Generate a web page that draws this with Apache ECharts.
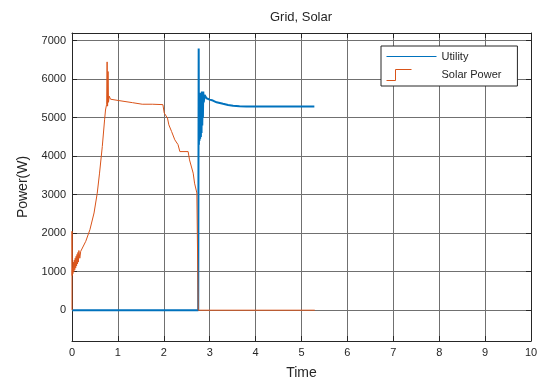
<!DOCTYPE html>
<html>
<head>
<meta charset="utf-8">
<script src="https://cdn.jsdelivr.net/npm/echarts@6/dist/echarts.min.js"></script>
<style>
  html, body { margin: 0; padding: 0; background: #fff; }
  #chart { width: 547px; height: 385px; }
</style>
</head>
<body>
<div id="chart"></div>
<script>
// values: [time, power]
const utility = [
  [0, 0], [2.75, 0], [2.755, 0], [2.76, 6800], [2.765, 4300], [2.772, 5600],
  [2.778, 4400], [2.785, 5650], [2.792, 4450], [2.80, 5600], [2.808, 4500],
  [2.815, 5650], [2.822, 4600], [2.83, 5680], [2.838, 4800], [2.845, 5650],
  [2.852, 5000], [2.86, 5680], [2.87, 5400], [2.89, 5590], [2.93, 5505],
  [3.0, 5470], [3.07, 5445], [3.15, 5400], [3.29, 5360], [3.4, 5330],
  [3.51, 5310], [3.65, 5300], [3.8, 5290], [4.2, 5290], [4.6, 5290],
  [5.0, 5290], [5.28, 5290]
]
const solar = [
  [0, 0], [0, 2050], [0.004, 900], [0.01, 1100], [0.02, 950], [0.03, 1250],
  [0.04, 1000], [0.05, 1300], [0.06, 1050], [0.07, 1350], [0.08, 1100],
  [0.09, 1400], [0.10, 1150], [0.11, 1450], [0.12, 1200], [0.13, 1500],
  [0.14, 1250], [0.15, 1550], [0.17, 1350], [0.19, 1530], [0.30, 1790],
  [0.39, 2090], [0.48, 2525], [0.55, 3040], [0.60, 3560], [0.66, 4250],
  [0.71, 4945], [0.73, 5200], [0.755, 5350], [0.765, 6450], [0.775, 5300],
  [0.785, 6200], [0.795, 5400], [0.81, 5560], [0.84, 5480], [1.02, 5445],
  [1.32, 5390], [1.53, 5350], [1.75, 5350], [1.98, 5340], [2.01, 5120],
  [2.08, 4990], [2.11, 4815], [2.17, 4640], [2.24, 4425], [2.31, 4300],
  [2.35, 4120], [2.53, 4120], [2.56, 3905], [2.64, 3560], [2.67, 3300],
  [2.72, 3045], [2.745, 3045], [2.75, 0], [5.29, 0]
]
const yTicks = [0, 1000, 2000, 3000, 4000, 5000, 6000, 7000]

const font = 'Liberation Sans, Arial, Helvetica, sans-serif'
const ink = '#262626'
const gridColor = '#707070'

const chart = echarts.init(document.getElementById('chart'), null, { renderer: 'canvas' })

chart.setOption({
  animation: false,
  textStyle: { fontFamily: font },
  title: {
    text: 'Grid, Solar',
    left: 301,
    top: 11,
    padding: 0,
    textAlign: 'center',
    textStyle: { fontSize: 13, fontWeight: 'normal', color: ink, fontFamily: font }
  },
  legend: {
    orient: 'vertical',
    left: 381,
    top: 46,
    padding: [5, 16, 5, 5],
    itemWidth: 50,
    itemHeight: 11,
    itemGap: 7,
    backgroundColor: '#fff',
    borderColor: ink,
    borderWidth: 1,
    borderRadius: 0,
    textStyle: { fontSize: 11, color: ink, fontFamily: font },
    data: [
      {
        name: 'Utility',
        icon: 'path://M0,5L50,5L50,6L0,6Z',
        itemStyle: { color: '#0072BD', borderWidth: 0 }
      },
      {
        name: 'Solar Power',
        icon: 'path://M0,11L9,11L9,0L25,0M50,0M50,11',
        itemStyle: { color: 'rgba(0,0,0,0)', borderColor: '#D95319', borderWidth: 1 }
      }
    ]
  },
  grid: { left: 72, right: 16, top: 33, bottom: 44 },
  xAxis: [
    {
      type: 'value',
      min: 0,
      max: 10,
      interval: 1,
      name: 'Time',
      nameLocation: 'middle',
      nameGap: 25,
      nameTextStyle: { fontSize: 14, color: ink },
      axisLine: { show: true, onZero: false, lineStyle: { color: ink } },
      axisTick: { show: true, inside: true, length: 5, lineStyle: { color: ink } },
      axisLabel: { fontSize: 11, color: ink, margin: 6, formatter: v => String(v) },
      splitLine: { show: true, lineStyle: { color: gridColor, width: 1 } }
    },
    {
      type: 'value',
      position: 'top',
      min: 0,
      max: 10,
      interval: 1,
      axisLine: { show: true, onZero: false, lineStyle: { color: ink } },
      axisTick: { show: true, inside: true, length: 5, lineStyle: { color: ink } },
      axisLabel: { show: false },
      splitLine: { show: false }
    }
  ],
  yAxis: [
    {
      type: 'value',
      min: -800,
      max: 7200,
      name: 'Power(W)',
      nameLocation: 'middle',
      nameGap: 42,
      nameTextStyle: { fontSize: 14, color: ink },
      axisLine: { show: true, onZero: false, lineStyle: { color: ink } },
      axisTick: { show: true, inside: true, length: 5, customValues: yTicks, lineStyle: { color: ink } },
      axisLabel: { fontSize: 11, color: ink, margin: 6, customValues: yTicks, formatter: v => String(v) },
      splitLine: { show: true, lineStyle: { color: gridColor, width: 1 } }
    },
    {
      type: 'value',
      position: 'right',
      min: -800,
      max: 7200,
      axisLine: { show: true, onZero: false, lineStyle: { color: ink } },
      axisTick: { show: true, inside: true, length: 5, customValues: yTicks, lineStyle: { color: ink } },
      axisLabel: { show: false },
      splitLine: { show: false }
    }
  ],
  series: [
    {
      name: 'Utility',
      type: 'line',
      data: utility,
      showSymbol: false,
      color: '#0072BD',
      lineStyle: { width: 2, color: '#0072BD' }
    },
    {
      name: 'Solar Power',
      type: 'line',
      data: solar,
      showSymbol: false,
      color: '#D95319',
      lineStyle: { width: 1, color: '#D95319' }
    }
  ]
})
</script>
</body>
</html>
